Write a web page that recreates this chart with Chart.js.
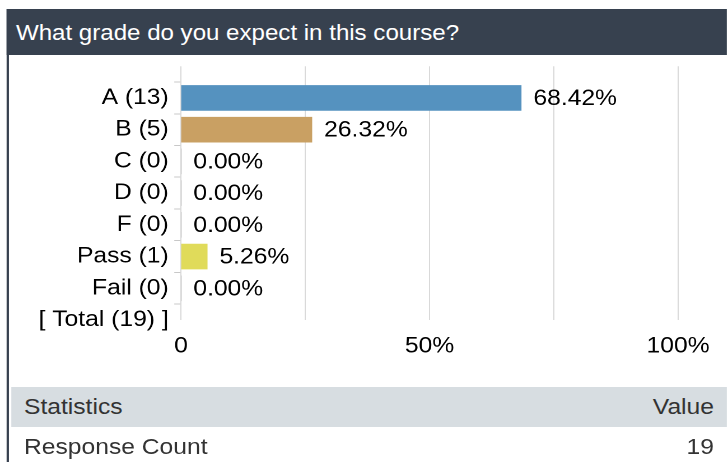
<!DOCTYPE html>
<html>
<head>
<meta charset="utf-8">
<script src="https://cdn.jsdelivr.net/npm/chart.js@4.4.1/dist/chart.umd.min.js"></script>
<style>
html, body { margin: 0; padding: 0; background: #fff; overflow: hidden; }
body { width: 727px; height: 462px; font-family: "Liberation Sans", Arial, sans-serif; }
/* the source image is a bit wider than tall, so the whole panel is stretched */
#page { position: absolute; left: 0; top: 0; width: 649px; height: 462px; transform: scaleX(1.12); transform-origin: 0 0; }
#edge { position: absolute; left: 6.25px; top: 9px; width: 2.2px; height: 453px; background: #37414f; }
#head { position: absolute; left: 6.25px; top: 9px; right: 0; height: 46px; background: #37414f; color: #fff;
        font-size: 21.5px; line-height: 49px; padding-left: 8px; white-space: nowrap; }
#wrap { position: absolute; left: 8px; top: 48px; width: 641px; height: 338px; }
.row { position: absolute; left: 9.8px; right: 0; display: flex; justify-content: space-between;
       padding: 0 11.5px 0 11.6px; font-size: 22px; color: #333; box-sizing: border-box; }
#statHead { top: 387px; height: 40px; line-height: 40px; background: #d7dde1; }
#statRow { top: 427px; height: 38px; line-height: 39px; }
</style>
</head>
<body>
<div id="page">
  <div id="edge"></div>
  <div id="head">What grade do you expect in this course?</div>
  <div id="wrap"><canvas id="graficoNotas" width="641" height="338"></canvas></div>
  <div class="row" id="statHead"><span>Statistics</span><span>Value</span></div>
  <div class="row" id="statRow"><span>Response Count</span><span id="respCount"></span></div>
</div>
<script>
const notas = ['A', 'B', 'C', 'D', 'F', 'Pass', 'Fail'];
const respostas = [13, 5, 0, 0, 0, 1, 0];
const percentuais = [68.42, 26.32, 0, 0, 0, 5.26, 0];
const coresBarras = ['#5592bf', '#c9a063', '#999999', '#999999', '#999999', '#e0db5a', '#999999'];
const totalRespostas = 19;
const ticksX = [0, 50, 100];

const fonte = '"Liberation Sans", Arial, sans-serif';

// first slot is empty so the rows sit on the axis like the original
let rotulos = [''].concat(notas.map((n, i) => `${n} (${respostas[i]})`), [`[ Total (${totalRespostas}) ]`]);
let valores = [null].concat(percentuais, [null]);
let cores = ['transparent'].concat(coresBarras, ['transparent']);

document.getElementById('respCount').textContent = totalRespostas;

const rotuloBarras = {
    id: 'rotuloBarras',
    afterDatasetsDraw(chart) {
        const ctx = chart.ctx;
        const meta = chart.getDatasetMeta(0);
        ctx.save();
        ctx.font = `22px ${fonte}`;
        ctx.fillStyle = '#000';
        ctx.textAlign = 'left';
        ctx.textBaseline = 'middle';
        meta.data.forEach((bar, i) => {
            if (valores[i] === null) return;
            ctx.fillText(valores[i].toFixed(2) + '%', bar.x + 11, bar.y + 1);
        });
        ctx.restore();
    }
};

new Chart(document.getElementById('graficoNotas'), {
    type: 'bar',
    data: {
        labels: rotulos,
        datasets: [{
            data: valores,
            backgroundColor: cores,
            borderWidth: 0,
            barThickness: 25
        }]
    },
    options: {
        responsive: false,
        devicePixelRatio: 2,
        animation: false,
        indexAxis: 'y',
        layout: { padding: { top: 0, right: 43.6, left: 0, bottom: 0 } },
        plugins: {
            legend: { display: false },
            tooltip: { enabled: false }
        },
        scales: {
            y: {
                offset: false,
                afterFit: scale => { scale.width = 153.6; },
                border: { display: false },
                grid: {
                    drawOnChartArea: false,
                    drawTicks: true,
                    tickLength: 6,
                    color: c => c.index === 0 ? 'transparent' : '#c8c8c8'
                },
                ticks: {
                    padding: 5,
                    autoSkip: false,
                    color: '#000',
                    font: { family: fonte, size: 22 }
                }
            },
            x: {
                min: 0,
                max: 100,
                afterFit: scale => { scale.height = 66; },
                border: { display: false },
                grid: { color: '#d9d9d9', drawTicks: false },
                ticks: {
                    stepSize: 25,
                    padding: 13,
                    maxRotation: 0,
                    color: '#000',
                    font: { family: fonte, size: 22 },
                    callback: v => ticksX.includes(v) ? (v === 0 ? '0' : v + '%') : ''
                }
            }
        }
    },
    plugins: [rotuloBarras]
});
</script>
</body>
</html>
